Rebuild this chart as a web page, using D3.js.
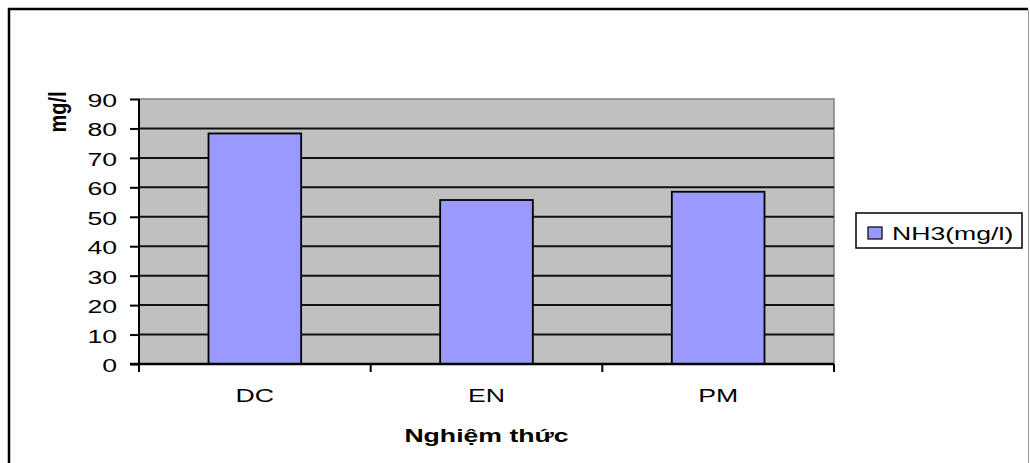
<!DOCTYPE html>
<html>
<head>
<meta charset="utf-8">
<script src="https://cdn.jsdelivr.net/npm/d3@7/dist/d3.min.js"></script>
<style>
  html, body { margin: 0; padding: 0; background: #fff; }
  svg text { font-family: "Liberation Sans", Arial, sans-serif; }
</style>
</head>
<body>
<svg id="chart" width="1030" height="463"></svg>
<script>
// NH3 concentration per treatment
const categories = ["DC", "EN", "PM"];
const nh3Values = [78.3, 55.7, 58.5];
const yTicks = [0, 10, 20, 30, 40, 50, 60, 70, 80, 90];
const seriesName = "NH3(mg/l)";
const xTitle = "Nghiệm thức";
const yTitle = "mg/l";

// the chart text is drawn horizontally widened
const TEXT_STRETCH = 1.48;
const FONT = 18;

const svg = d3.select("#chart");

// outer chart frame
svg.append("line").attr("x1", 9).attr("x2", 9).attr("y1", 8).attr("y2", 463)
  .attr("stroke", "#000").attr("stroke-width", 2.5);
svg.append("line").attr("x1", 8).attr("x2", 1028).attr("y1", 9).attr("y2", 9)
  .attr("stroke", "#000").attr("stroke-width", 2.5);
svg.append("line").attr("x1", 1028.5).attr("x2", 1028.5).attr("y1", 10).attr("y2", 463)
  .attr("stroke", "#999").attr("stroke-width", 1);

const plot = { left: 139, right: 834, top: 99, bottom: 364 };

const x = d3.scaleBand()
  .domain(categories)
  .range([plot.left, plot.right])
  .paddingInner(0.6)
  .paddingOuter(0.3);

const y = d3.scaleLinear()
  .domain([0, 90])
  .range([plot.bottom, plot.top]);

// widened text helper
function stretchedText(parent, px, py, str, opts = {}) {
  return parent.append("text")
    .attr("transform", `translate(${px},${py}) scale(${TEXT_STRETCH},1)`)
    .attr("text-anchor", opts.anchor || "start")
    .attr("font-size", opts.size || FONT)
    .attr("font-weight", opts.weight || "normal")
    .attr("fill", "#000")
    .text(str);
}

// plot area background
svg.append("rect")
  .attr("x", plot.left).attr("y", plot.top)
  .attr("width", plot.right - plot.left)
  .attr("height", plot.bottom - plot.top)
  .attr("fill", "#c0c0c0")
  .attr("stroke", "#808080")
  .attr("stroke-width", 1.5);

// horizontal gridlines
svg.append("g")
  .selectAll("line")
  .data(yTicks.filter(t => t > 0 && t < 90))
  .join("line")
  .attr("x1", plot.left).attr("x2", plot.right)
  .attr("y1", d => y(d)).attr("y2", d => y(d))
  .attr("stroke", "#111")
  .attr("stroke-width", 2);

// bars
svg.append("g")
  .selectAll("rect")
  .data(categories.map((c, i) => ({ c, v: nh3Values[i] })))
  .join("rect")
  .attr("x", d => x(d.c))
  .attr("y", d => y(d.v))
  .attr("width", x.bandwidth())
  .attr("height", d => y(0) - y(d.v))
  .attr("fill", "#9999ff")
  .attr("stroke", "#000")
  .attr("stroke-width", 1.8);

// y axis
const yAxis = d3.axisLeft(y).tickValues(yTicks).tickSize(9).tickPadding(4);
const gy = svg.append("g")
  .attr("transform", `translate(${plot.left},0)`)
  .call(yAxis);
gy.select(".domain").attr("stroke", "#000").attr("stroke-width", 2)
  .attr("d", `M0,${plot.top}V${plot.bottom}`);
gy.selectAll(".tick line").attr("stroke", "#000").attr("stroke-width", 2);
gy.selectAll(".tick text")
  .attr("x", 0)
  .attr("dy", "0.36em")
  .attr("transform", `translate(-22,1) scale(${TEXT_STRETCH},1)`)
  .attr("font-size", FONT)
  .attr("fill", "#000")
  .attr("font-family", "Liberation Sans, Arial, sans-serif");

// x axis with ticks at category boundaries
const gx = svg.append("g")
  .attr("transform", `translate(0,${plot.bottom})`);
gx.append("line")
  .attr("x1", plot.left - 9).attr("x2", plot.right)
  .attr("y1", 0).attr("y2", 0)
  .attr("stroke", "#000").attr("stroke-width", 2.5);
const step = x.step();
const boundaries = d3.range(categories.length + 1).map(i => plot.left + i * step);
gx.selectAll(".bt")
  .data(boundaries)
  .join("line")
  .attr("class", "bt")
  .attr("x1", d => d).attr("x2", d => d)
  .attr("y1", 0).attr("y2", 8)
  .attr("stroke", "#000").attr("stroke-width", 2);
categories.forEach(c => {
  stretchedText(gx, x(c) + x.bandwidth() / 2, 38, c, { anchor: "middle" });
});

// axis titles
stretchedText(svg, (plot.left + plot.right) / 2, 442, xTitle,
  { anchor: "middle", weight: "bold" });

svg.append("text")
  .attr("transform", "translate(66,112) rotate(-90) scale(1,1.2)")
  .attr("text-anchor", "middle")
  .attr("font-size", 20)
  .attr("font-weight", "bold")
  .attr("fill", "#000")
  .text(yTitle);

// legend
const legend = svg.append("g");
legend.append("rect")
  .attr("x", 856).attr("y", 213)
  .attr("width", 166).attr("height", 35)
  .attr("fill", "#fff")
  .attr("stroke", "#000")
  .attr("stroke-width", 1.5);
legend.append("rect")
  .attr("x", 868).attr("y", 227)
  .attr("width", 14).attr("height", 12)
  .attr("fill", "#9999ff")
  .attr("stroke", "#000")
  .attr("stroke-width", 1.2);
stretchedText(legend, 892, 240, seriesName);
</script>
</body>
</html>
